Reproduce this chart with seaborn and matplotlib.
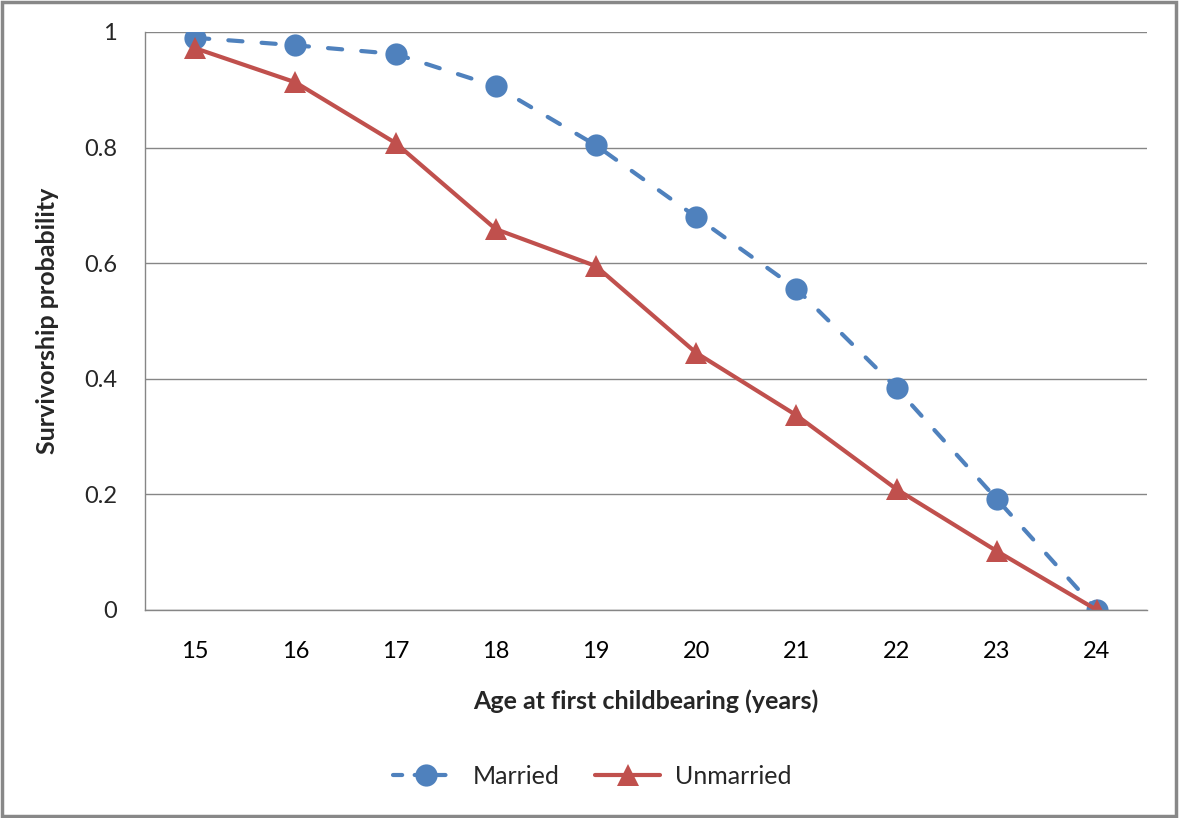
import matplotlib
matplotlib.use("Agg")
import matplotlib.pyplot as plt
from matplotlib.patches import Rectangle
from matplotlib.lines import Line2D
import numpy as np
import pandas as pd
import seaborn as sns

# Survivorship by age at first childbearing
ages = [15, 16, 17, 18, 19, 20, 21, 22, 23, 24]
married = [0.99, 0.977, 0.962, 0.906, 0.804, 0.680, 0.556, 0.384, 0.192, 0.0]
unmarried = [0.972, 0.913, 0.808, 0.659, 0.595, 0.445, 0.337, 0.209, 0.102, 0.0]
y_ticks = [0, 0.2, 0.4, 0.6, 0.8, 1]
y_tick_labels = ["0", "0.2", "0.4", "0.6", "0.8", "1"]

BLUE = "#4F81BD"
RED = "#C0504D"
GRID = "#868686"
MARRIED_DASH = (0, (3.4, 4.6))

sns.set_style("white")
plt.rcParams["font.family"] = ["Lato", "DejaVu Sans"]

fig = plt.figure(figsize=(11.8, 8.18), dpi=100)
ax = fig.add_axes([145 / 1180, 1 - 610 / 818, (1147 - 145) / 1180, (610 - 32) / 818])

df = pd.DataFrame({
    "age": ages * 2,
    "p": married + unmarried,
    "group": ["Married"] * len(ages) + ["Unmarried"] * len(ages),
})

sns.lineplot(data=df[df.group == "Married"], x="age", y="p", ax=ax,
             color=BLUE, lw=3, marker="o", markersize=16,
             markeredgewidth=0, legend=False)
sns.lineplot(data=df[df.group == "Unmarried"], x="age", y="p", ax=ax,
             color=RED, lw=3, marker="^", markersize=16,
             markeredgewidth=0, legend=False)
married_line = ax.lines[0]
married_line.set_linestyle(MARRIED_DASH)
married_line.set_dash_capstyle("round")

ax.set_xlim(14.5, 24.5)
ax.set_ylim(0, 1)
ax.set_yticks(y_ticks)
ax.set_yticklabels(y_tick_labels)
ax.set_xticks(ages)
ax.set_xticklabels([str(a) for a in ages])
ax.set_xticks(np.arange(14.5, 25, 1), minor=True)

ax.tick_params(axis="x", which="major", length=0, pad=22, labelsize=17, colors="black")
ax.tick_params(axis="x", which="minor", length=7, width=1, color=GRID, direction="out")
ax.tick_params(axis="y", length=0, pad=20, labelsize=17)

ax.yaxis.grid(True, color=GRID, lw=1)
ax.xaxis.grid(False)
ax.set_axisbelow(True)
for side in ["top", "right"]:
    ax.spines[side].set_visible(False)
for side in ["left", "bottom"]:
    ax.spines[side].set_color(GRID)
    ax.spines[side].set_linewidth(1)

ax.set_xlabel("Age at first childbearing (years)", fontsize=18, fontweight="bold", labelpad=20)
ax.set_ylabel("Survivorship probability", fontsize=18, fontweight="bold", labelpad=18)

handles = [
    Line2D([], [], color=BLUE, lw=3, linestyle=(0, (2.2, 3)), marker="o",
           markersize=16, markeredgewidth=0, dash_capstyle="round"),
    Line2D([], [], color=RED, lw=3, marker="^", markersize=16, markeredgewidth=0),
]
fig.legend(handles, ["Married", "Unmarried"], loc="center", bbox_to_anchor=(0.502, 1 - 776 / 818),
           ncol=2, frameon=False, fontsize=18, handlelength=2.6, columnspacing=1.4,
           handletextpad=0.6)

# outer chart border
fig.patches.append(Rectangle((0.002, 0.003), 0.995, 0.994, transform=fig.transFigure,
                             fill=False, edgecolor="#888888", lw=2.5))

fig.savefig("out.png", dpi=100)
